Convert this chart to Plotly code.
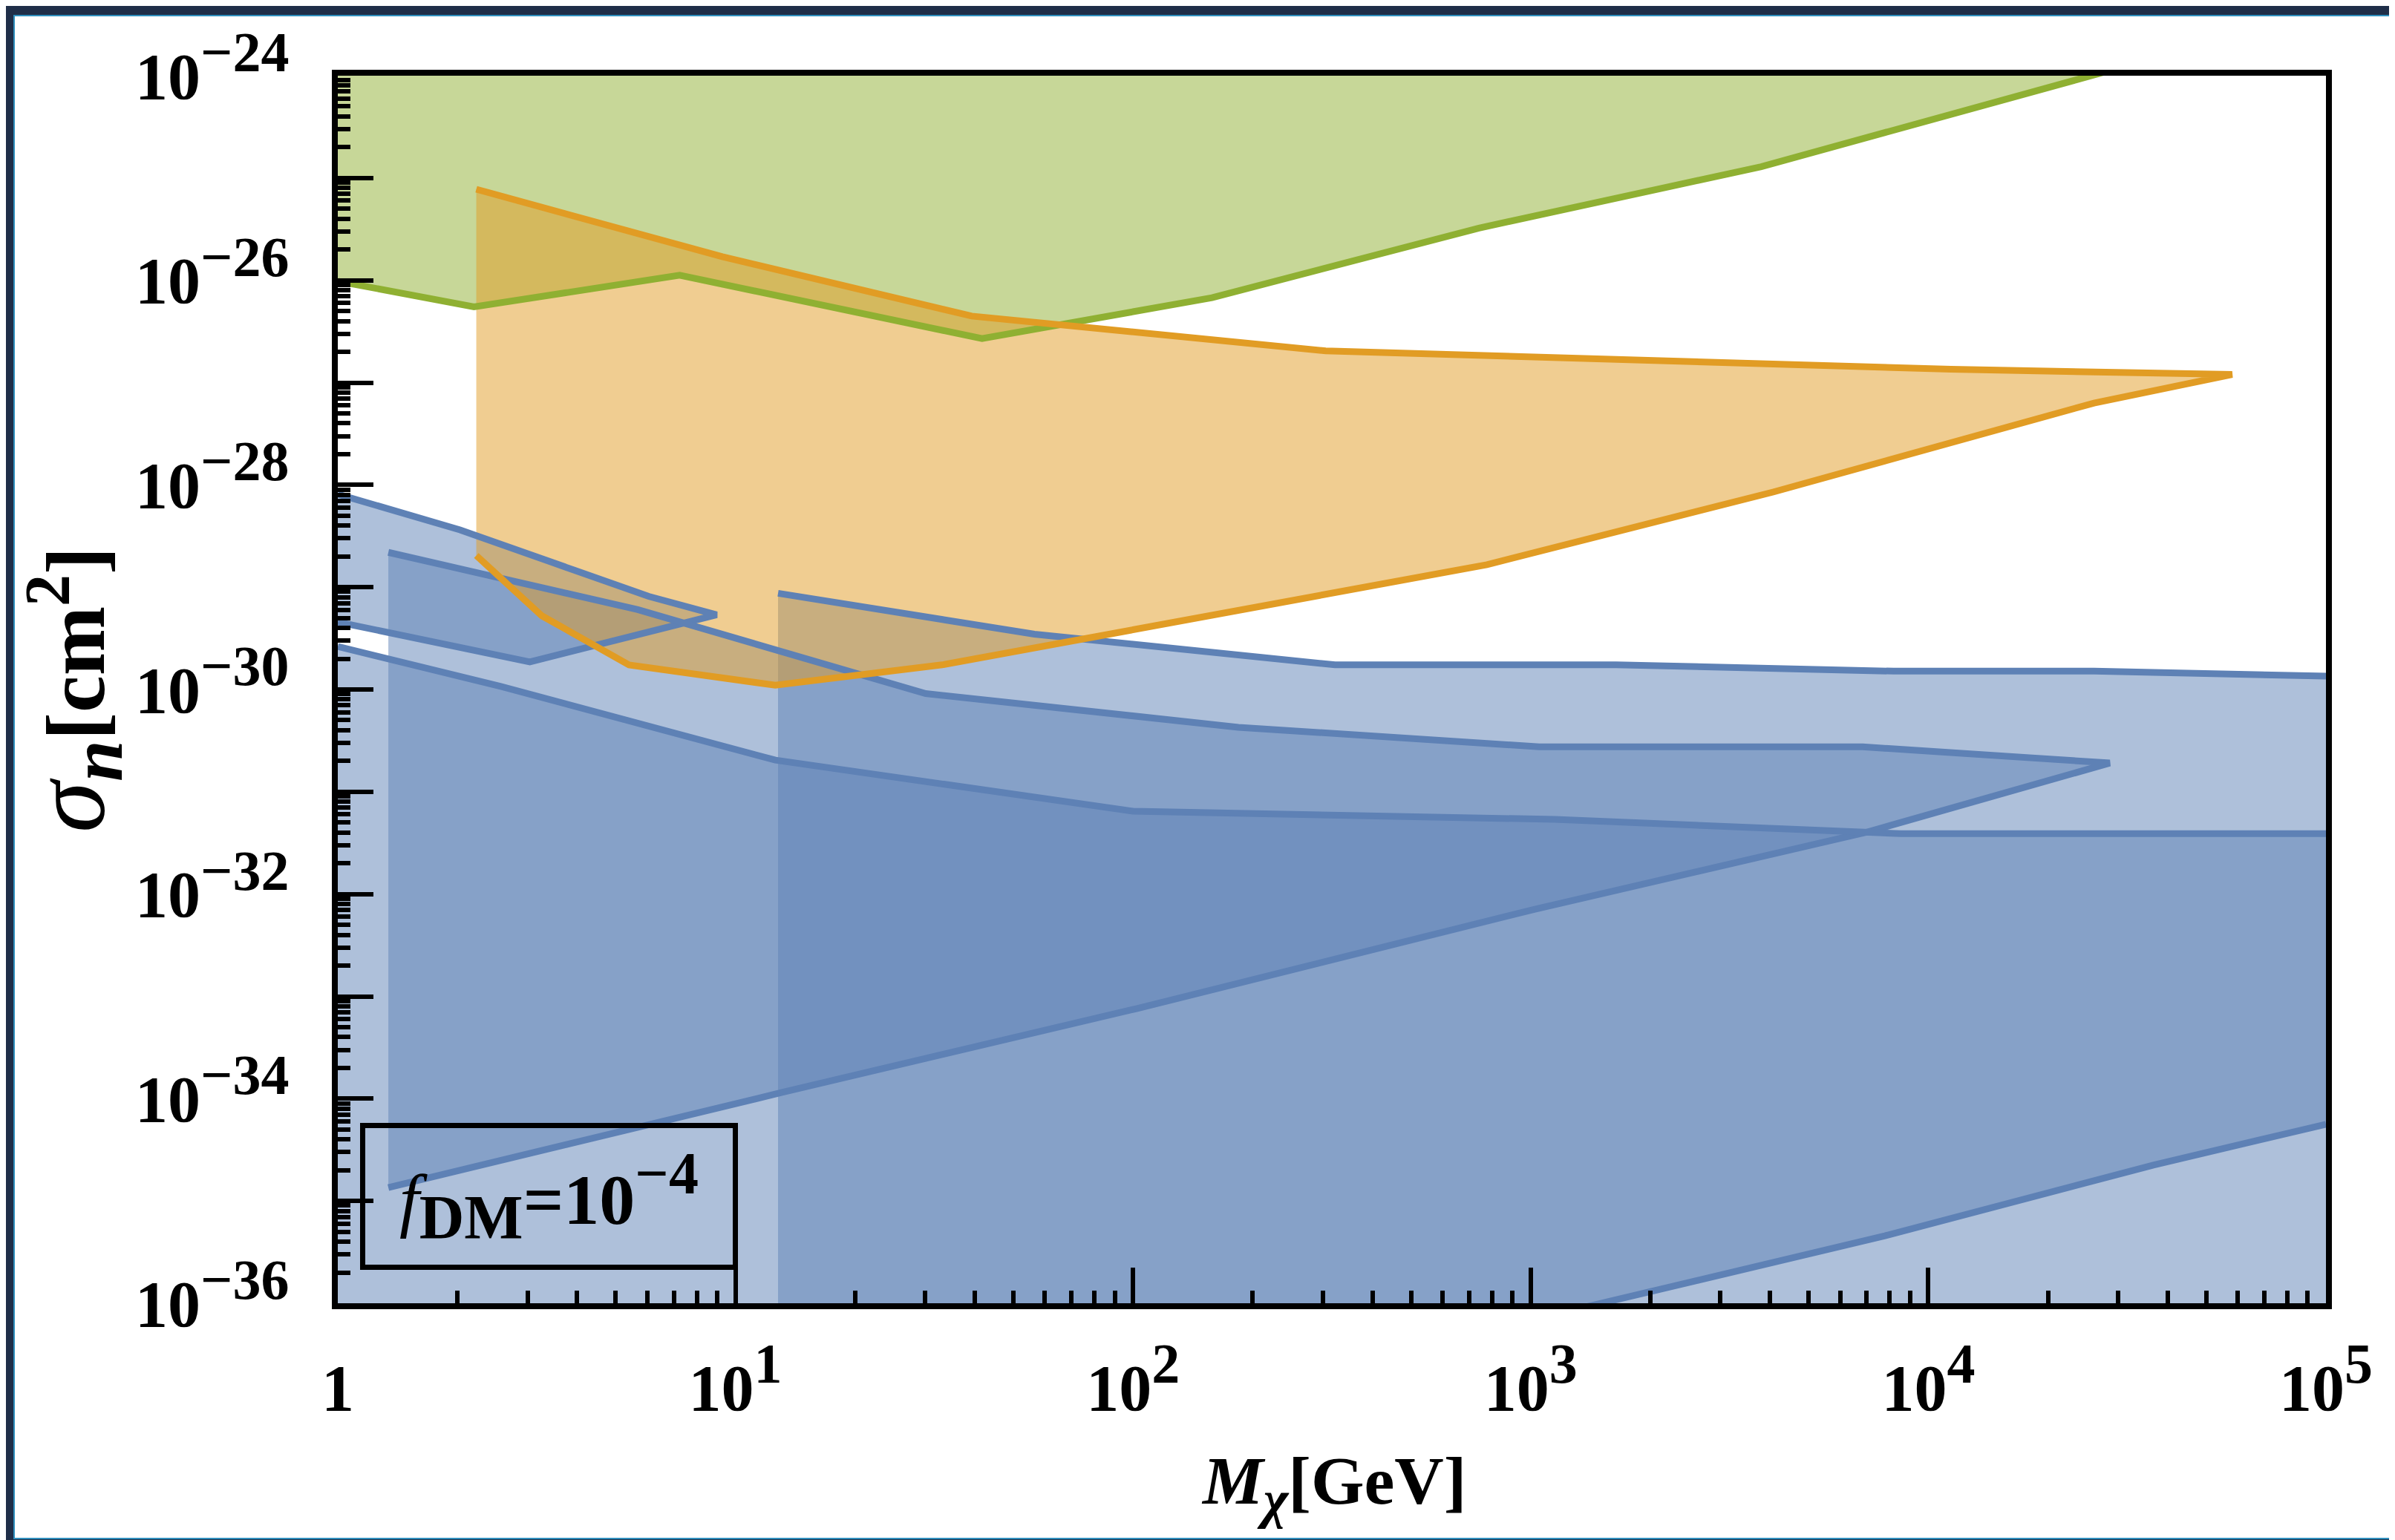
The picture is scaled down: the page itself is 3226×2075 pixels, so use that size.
import plotly.graph_objects as go

# ---------------- data (M_chi in GeV, sigma_n in cm^2) ----------------
green_M     = [1.0, 2.20, 7.24, 41.7, 158, 741, 3800, 15100, 25700, 39800]
green_sigma = [9.8e-27, 5.5e-27, 1.12e-26, 2.69e-27, 6.76e-27, 3.24e-26, 1.29e-25, 5.75e-25, 1.0e-24, 1.6e-24]

orange_upper_M     = [2.23, 9.27, 39.3, 305, 11400, 58100]
orange_upper_sigma = [7.76e-26, 1.70e-26, 4.47e-27, 2.04e-27, 1.35e-27, 1.20e-27]
orange_lower_M     = [2.23, 3.26, 5.40, 12.6, 33.1, 776, 4070, 26100, 58100]
orange_lower_sigma = [2.04e-29, 5.25e-30, 1.74e-30, 1.10e-30, 1.74e-30, 1.66e-29, 8.51e-29, 6.31e-28, 1.20e-27]

blueA_upper_M     = [1.0, 2.03, 6.05, 8.97]
blueA_upper_sigma = [8.13e-29, 3.63e-29, 8.13e-30, 5.37e-30]
blueA_lower_M     = [1.0, 3.04, 8.97]
blueA_lower_sigma = [4.57e-30, 1.86e-30, 5.37e-30]

blueB_upper_M     = [1.34, 5.68, 30.1, 184, 1050, 6840, 28600]
blueB_upper_sigma = [2.19e-29, 6.03e-30, 9.12e-31, 4.27e-31, 2.75e-31, 2.75e-31, 1.91e-31]
blueB_lower_M     = [1.34, 13.1, 102, 1020, 6920, 28600]
blueB_lower_sigma = [1.35e-35, 1.15e-34, 7.59e-34, 7.08e-33, 3.98e-32, 1.91e-31]

blueC_upper_M     = [12.8, 56.5, 322, 1640, 8180, 26100, 1.0e5]
blueC_upper_sigma = [8.71e-30, 3.47e-30, 1.74e-30, 1.74e-30, 1.51e-30, 1.51e-30, 1.35e-30]

blueD_upper_M     = [1.0, 2.57, 12.6, 100, 1150, 8510, 1.0e5]
blueD_upper_sigma = [2.63e-30, 1.07e-30, 2.04e-31, 6.46e-32, 5.37e-32, 3.89e-32, 3.89e-32]
blueD_lower_M     = [1.0, 1400, 7780, 36800, 1.0e5]
blueD_lower_sigma = [1.15e-39, 9.33e-37, 4.57e-36, 2.24e-35, 5.62e-35]

SIGMA_FLOOR = 1e-40
SIGMA_CEIL = 1e-22

x_tick_exp = [0, 1, 2, 3, 4, 5]
y_tick_exp = list(range(-36, -23))
y_label_exp = [-36, -34, -32, -30, -28, -26, -24]

# ---------------- styling ----------------
BLUE, ORANGE, GREEN = "#5e81b5", "#e19c24", "#8fb032"
FONT = "Liberation Serif"
W, H = 3226, 2075
PL, PR, PT, PB = 447, 3125, 94, 1748   # plot area in pixels
LW = 9


def rgba(h, a):
    h = h.lstrip("#")
    return "rgba(%d,%d,%d,%.2f)" % (int(h[0:2], 16), int(h[2:4], 16), int(h[4:6], 16), a)


def px_x(p):
    return (p - PL) / (PR - PL)


def px_y(p):
    return (PB - p) / (PB - PT)


fig = go.Figure()


def add_fill(xs, ys, color):
    fig.add_trace(go.Scatter(x=xs, y=ys, mode="lines", fill="toself",
                             fillcolor=rgba(color, 0.5), line=dict(width=0),
                             hoverinfo="skip", showlegend=False))


def add_line(xs, ys, color):
    fig.add_trace(go.Scatter(x=xs, y=ys, mode="lines",
                             line=dict(color=color, width=LW),
                             hoverinfo="skip", showlegend=False))


# fills (blue first, then green, then orange on top)
add_fill(blueA_upper_M + blueA_lower_M[::-1], blueA_upper_sigma + blueA_lower_sigma[::-1], BLUE)
add_fill(blueB_upper_M + blueB_lower_M[::-1], blueB_upper_sigma + blueB_lower_sigma[::-1], BLUE)
add_fill(blueC_upper_M + [blueC_upper_M[-1], blueC_upper_M[0]],
         blueC_upper_sigma + [SIGMA_FLOOR, SIGMA_FLOOR], BLUE)
add_fill(blueD_upper_M + blueD_lower_M[::-1], blueD_upper_sigma + blueD_lower_sigma[::-1], BLUE)
add_fill([green_M[0]] + green_M + [green_M[-1]], [SIGMA_CEIL] + green_sigma + [SIGMA_CEIL], GREEN)
add_fill(orange_upper_M + orange_lower_M[::-1], orange_upper_sigma + orange_lower_sigma[::-1], ORANGE)

# boundary lines
add_line(blueA_upper_M + blueA_lower_M[::-1][1:], blueA_upper_sigma + blueA_lower_sigma[::-1][1:], BLUE)
add_line(blueB_upper_M + blueB_lower_M[::-1][1:], blueB_upper_sigma + blueB_lower_sigma[::-1][1:], BLUE)
add_line(blueC_upper_M, blueC_upper_sigma, BLUE)
add_line(blueD_upper_M, blueD_upper_sigma, BLUE)
add_line(blueD_lower_M, blueD_lower_sigma, BLUE)
add_line(green_M, green_sigma, GREEN)
add_line(orange_upper_M + orange_lower_M[::-1][1:], orange_upper_sigma + orange_lower_sigma[::-1][1:], ORANGE)


def sup(s, size=76):
    return "<sup><span style='font-size:%dpx'>%s</span></sup>" % (size, s)


def xlab(k):
    return "<b>1</b>" if k == 0 else "<b>10" + sup(str(k)) + "</b>"


def ylab(k):
    return ("<b>10" + sup("\u2212" + str(abs(k))) + "</b>") if k in y_label_exp else ""


x_minor = [m * 10.0 ** k for k in range(0, 5) for m in range(2, 10)]
y_minor = [m * 10.0 ** k for k in range(-36, -24) for m in range(2, 10)]

axis_common = dict(showline=True, linewidth=8, linecolor="black", mirror=True,
                   showgrid=False, zeroline=False, ticks="inside", ticklen=48,
                   tickwidth=6, tickcolor="black",
                   tickfont=dict(family=FONT, size=88, color="black"))

fig.update_xaxes(type="log", range=[0, 5], tickmode="array",
                 tickvals=[10.0 ** k for k in x_tick_exp],
                 ticktext=[xlab(k) for k in x_tick_exp],
                 ticklabelstandoff=30,
                 minor=dict(tickmode="array", tickvals=x_minor, ticks="inside",
                            ticklen=17, tickwidth=6, tickcolor="black", showgrid=False),
                 **axis_common)
fig.update_yaxes(type="log", range=[-36, -24], tickmode="array",
                 tickvals=[10.0 ** k for k in y_tick_exp],
                 ticktext=[ylab(k) for k in y_tick_exp],
                 ticklabelstandoff=40,
                 minor=dict(tickmode="array", tickvals=y_minor, ticks="inside",
                            ticklen=17, tickwidth=6, tickcolor="black", showgrid=False),
                 **axis_common)

annotations = [
    dict(text="<b><i>M</i><sub><span style='font-size:72px'><i>\u03c7</i></span></sub>[GeV]</b>",
         xref="paper", yref="paper", x=px_x(1788), y=px_y(1995),
         xanchor="center", yanchor="middle", showarrow=False,
         font=dict(family=FONT, size=92, color="black")),
    dict(text="<span style='font-size:140px'><i>\u03c3</i></span>"
              "<b><sub><span style='font-size:100px'><i>n</i></span></sub>[cm"
              "<sup><span style='font-size:86px'>2</span></sup>]</b>",
         xref="paper", yref="paper", x=px_x(92), y=px_y(922), textangle=-90,
         xanchor="center", yanchor="middle", showarrow=False,
         font=dict(family=FONT, size=112, color="black")),
    dict(text="<i>f</i><sub><span style='font-size:84px'><b>DM</b></span></sub><b>=10"
              + sup("\u22124", 80) + "</b>",
         xref="paper", yref="paper", x=px_x(731), y=px_y(1604),
         xanchor="center", yanchor="middle", showarrow=False,
         width=495, height=184, borderwidth=7, borderpad=0,
         bordercolor="black", bgcolor="rgba(0,0,0,0)",
         font=dict(family=FONT, size=96, color="black")),
]

NAVY, TEAL = "#1f2e48", "#2f8fbd"
shapes = [
    # outer dark frame (top, left, bottom) with thin teal inner line
    dict(type="rect", xref="paper", yref="paper", x0=px_x(0), x1=px_x(W), y0=px_y(0), y1=px_y(12),
         fillcolor=NAVY, line=dict(width=0), layer="above"),
    dict(type="rect", xref="paper", yref="paper", x0=px_x(0), x1=px_x(W), y0=px_y(12), y1=px_y(14),
         fillcolor=TEAL, line=dict(width=0), layer="above"),
    dict(type="rect", xref="paper", yref="paper", x0=px_x(0), x1=px_x(10), y0=px_y(0), y1=px_y(H),
         fillcolor=NAVY, line=dict(width=0), layer="above"),
    dict(type="rect", xref="paper", yref="paper", x0=px_x(10), x1=px_x(12), y0=px_y(14), y1=px_y(2064),
         fillcolor=TEAL, line=dict(width=0), layer="above"),
    dict(type="rect", xref="paper", yref="paper", x0=px_x(0), x1=px_x(W), y0=px_y(2066), y1=px_y(H),
         fillcolor=NAVY, line=dict(width=0), layer="above"),
    dict(type="rect", xref="paper", yref="paper", x0=px_x(10), x1=px_x(W), y0=px_y(2064), y1=px_y(2066),
         fillcolor=TEAL, line=dict(width=0), layer="above"),
]

fig.update_layout(width=W, height=H, autosize=False,
                  margin=dict(l=PL, r=W - PR, t=PT, b=H - PB, pad=0),
                  paper_bgcolor="white", plot_bgcolor="white",
                  showlegend=False, annotations=annotations, shapes=shapes)

fig.write_html("out.html")
